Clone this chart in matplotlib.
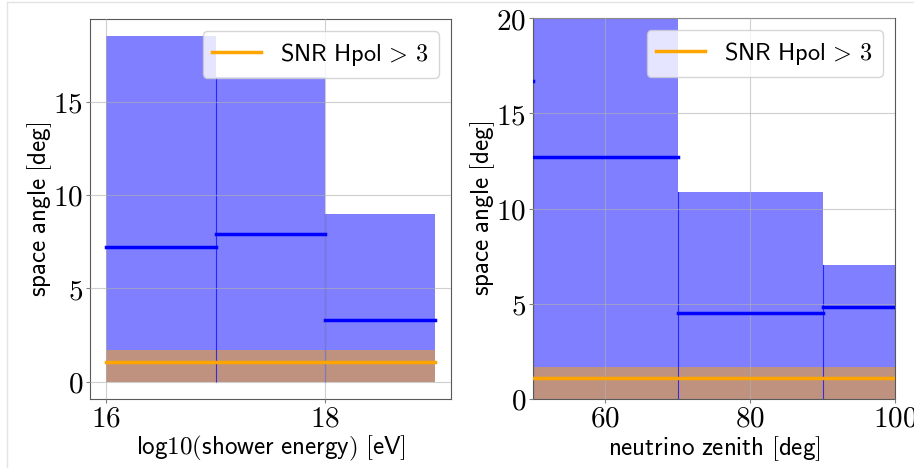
import numpy as np
import matplotlib
matplotlib.use('Agg')
import matplotlib.pyplot as plt
from matplotlib.ticker import FuncFormatter, MultipleLocator
from matplotlib.lines import Line2D

plt.rcParams['mathtext.fontset'] = 'cm'

# data: 68% quantile (bar height) and median of space angle per bin
energy_edges = [16, 17, 18, 19]
energy_q68 = [18.5, 16.3, 9.0]
energy_median = [7.2, 7.9, 3.3]

zenith_edges = [30, 50, 70, 90, 110]
zenith_q68 = [24.0, 21.0, 10.85, 7.05]
zenith_median = [16.7, 12.7, 4.5, 4.85]

snr_q68 = 1.7      # SNR Hpol > 3 selection, all events
snr_median = 1.08


def sf(text):
    return r'$\mathsf{' + text.replace(' ', r'\ ') + '}$'


def draw_panel(ax, edges, q68, median, xlabel):
    edges = np.asarray(edges, dtype=float)
    for i in range(len(q68)):
        ax.fill_between([edges[i], edges[i+1]], 0, q68[i],
                        color='blue', alpha=0.5, linewidth=0, zorder=1)
        ax.plot([edges[i], edges[i+1]], [median[i], median[i]],
                color='blue', lw=2.5, zorder=3)
    # visible seams between neighbouring bins
    for i in range(1, len(q68)):
        ax.plot([edges[i], edges[i]], [0, min(q68[i-1], q68[i])],
                color='blue', lw=0.8, alpha=0.7, zorder=1.5)
    ax.fill_between([edges[0], edges[-1]], 0, snr_q68,
                    color='orange', alpha=0.5, linewidth=0, zorder=1.2)
    ax.plot([edges[0], edges[-1]], [snr_median, snr_median],
            color='orange', lw=2.5, zorder=3,
            label=sf('SNR Hpol') + r'$\,>\,$' + sf('3'))
    ax.grid(True, color='#b0b0b0', alpha=0.6, linewidth=0.8, zorder=2.5)
    ax.set_axisbelow(False)
    ax.xaxis.set_major_formatter(FuncFormatter(lambda v, p: '$%g$' % v))
    ax.yaxis.set_major_formatter(FuncFormatter(lambda v, p: '$%g$' % v))
    ax.tick_params(labelsize=21, length=3, color='0.5')
    ax.tick_params(axis='x', pad=1)
    ax.tick_params(axis='y', pad=2)
    for s in ax.spines.values():
        s.set_edgecolor('0.35')
    ax.set_xlabel(sf(xlabel), fontsize=18, labelpad=1)
    ax.set_ylabel(sf('space angle [deg]'), fontsize=18, labelpad=-1)
    ax.legend(loc='upper right', fontsize=17.5, handlelength=2.0)


fig = plt.figure(figsize=(9.14, 4.68), dpi=100)

ax1 = fig.add_axes([90/914, 1 - 399/468, 361/914, 380/468])
draw_panel(ax1, energy_edges, energy_q68, energy_median,
           'log10(shower energy) [eV]')
ax1.xaxis.set_major_locator(MultipleLocator(2))
ax1.yaxis.set_major_locator(MultipleLocator(5))

ax2 = fig.add_axes([533/914, 1 - 399/468, 362/914, 381/468])
draw_panel(ax2, zenith_edges, zenith_q68, zenith_median,
           'neutrino zenith [deg]')
ax2.set_xlim(50, 100)
ax2.set_ylim(0, 20)
ax2.xaxis.set_major_locator(MultipleLocator(20))
ax2.yaxis.set_major_locator(MultipleLocator(5))

# light frame of the original screenshot
fig.add_artist(Line2D([7/914, 1], [1 - 1.5/468, 1 - 1.5/468], color='#e4e4e4', lw=1))
fig.add_artist(Line2D([7/914, 7/914], [0, 1 - 1.5/468], color='#e4e4e4', lw=1))

fig.savefig('out.png', dpi=100)
